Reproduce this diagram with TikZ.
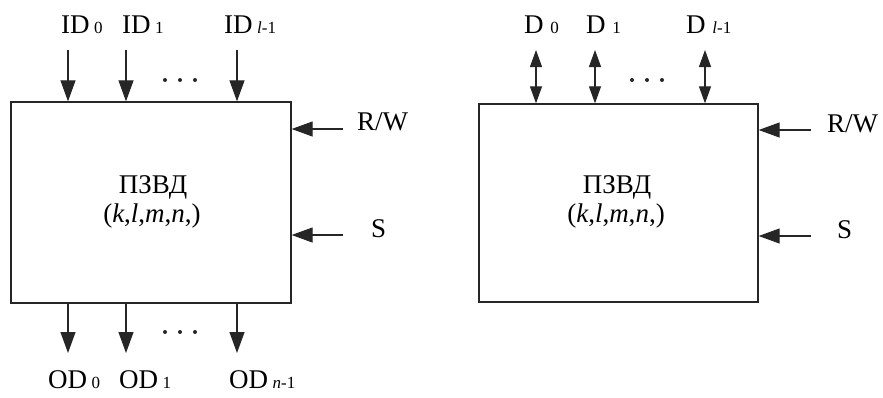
\documentclass[tikz,border=0pt]{standalone}
\usepackage{fontspec}
\setmainfont{Liberation Serif}
\usetikzlibrary{arrows.meta}
\newcommand{\idx}[1]{{\fontsize{17}{17}\selectfont #1}}
\tikzset{
  membox/.style={draw=black!85,line width=1.3pt,inner sep=0pt},
  sarrow/.style={draw=black!85,line width=1.1pt,-{Triangle[length=21pt,width=15pt]}},
  darrow/.style={draw=black!85,line width=1.1pt,{Triangle[length=17pt,width=12pt]}-{Triangle[length=17pt,width=12pt]}},
  lab/.style={inner sep=0pt,anchor=base west},
}
\begin{document}
\begin{tikzpicture}[x=1pt,y=-1pt,font=\fontsize{27}{31}\selectfont]
  \useasboundingbox (0,0) rectangle (883,397);
  % left memory: separate inputs and outputs
  \node[membox,minimum width=280pt,minimum height=201pt] (memL) at (151,202.5) {};
  \node[inner sep=0pt,anchor=base] (nameL) at (153,193) {ПЗВД};
  \node[inner sep=0pt,anchor=base] (parL) at (152,222) {(\textit{k},\textit{l},\textit{m},\textit{n},)};
  % inputs ID
  \node[lab] (id0) at (61,33) {ID\,\idx{0}};
  \node[lab] (id1) at (122,33) {ID\,\idx{1}};
  \node[lab] (idl) at (224,33) {ID\,\idx{\textit{l}-1}};
  \coordinate (in0) at (68,50);
  \coordinate (in1) at (126,50);
  \coordinate (inl) at (237,50);
  \draw[sarrow] (in0) -- (in0 |- memL.north);
  \draw[sarrow] (in1) -- (in1 |- memL.north);
  \draw[sarrow] (inl) -- (inl |- memL.north);
  \coordinate (dotsIn) at (180,80);
  \foreach \dx in {-15,0,15}
    \fill[black!85] ([xshift=\dx pt]dotsIn) circle (2pt);
  % outputs OD
  \coordinate (out0) at (68,353);
  \coordinate (out1) at (126,353);
  \coordinate (outn) at (237,353);
  \draw[sarrow] (out0 |- memL.south) -- (out0);
  \draw[sarrow] (out1 |- memL.south) -- (out1);
  \draw[sarrow] (outn |- memL.south) -- (outn);
  \node[lab] (od0) at (48,388) {OD\,\idx{0}};
  \node[lab] (od1) at (119,388) {OD\,\idx{1}};
  \node[lab] (odn) at (229,388) {OD\,\idx{\textit{n}-1}};
  \coordinate (dotsOut) at (180,332);
  \foreach \dx in {-15,0,15}
    \fill[black!85] ([xshift=\dx pt]dotsOut) circle (2pt);
  % control lines
  \node[lab] (rwL) at (357,130) {R/W};
  \node[lab] (sL) at (371,237) {S};
  \coordinate (rwLin) at (343,129);
  \coordinate (sLin) at (343,235);
  \draw[sarrow] (rwLin) -- (rwLin -| memL.east);
  \draw[sarrow] (sLin) -- (sLin -| memL.east);
  % right memory: bidirectional data lines
  \node[membox,minimum width=279pt,minimum height=198pt] (memR) at (618.5,203) {};
  \node[inner sep=0pt,anchor=base] (nameR) at (617,193) {ПЗВД};
  \node[inner sep=0pt,anchor=base] (parR) at (616,222) {(\textit{k},\textit{l},\textit{m},\textit{n},)};
  \node[lab] (d0) at (524,33) {D\ \idx{0}};
  \node[lab] (d1) at (586,33) {D\ \idx{1}};
  \node[lab] (dl) at (686,33) {D\ \idx{\textit{l}-1}};
  \coordinate (io0) at (536,50);
  \coordinate (io1) at (595,50);
  \coordinate (iol) at (705,50);
  \draw[darrow] (io0) -- (io0 |- memR.north);
  \draw[darrow] (io1) -- (io1 |- memR.north);
  \draw[darrow] (iol) -- (iol |- memR.north);
  \coordinate (dotsIO) at (647,80);
  \foreach \dx in {-15,0,15}
    \fill[black!85] ([xshift=\dx pt]dotsIO) circle (2pt);
  \node[lab] (rwR) at (827,132) {R/W};
  \node[lab] (sR) at (837,238) {S};
  \coordinate (rwRin) at (811,130);
  \coordinate (sRin) at (811,236);
  \draw[sarrow] (rwRin) -- (rwRin -| memR.east);
  \draw[sarrow] (sRin) -- (sRin -| memR.east);
\end{tikzpicture}
\end{document}
